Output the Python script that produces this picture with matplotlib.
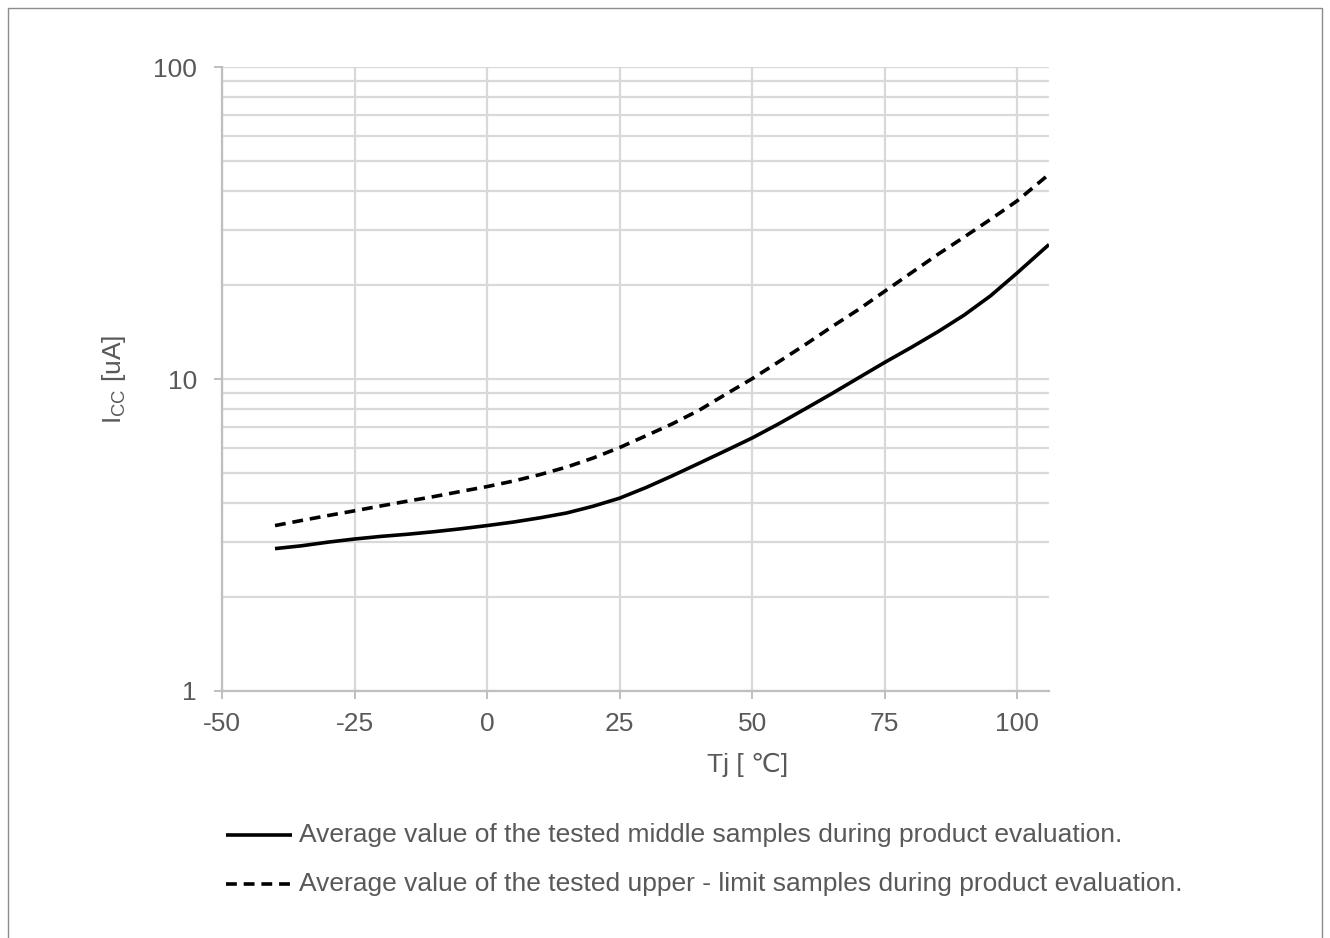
import matplotlib
matplotlib.use("Agg")
import matplotlib.pyplot as plt
from matplotlib.lines import Line2D
from matplotlib.patches import Rectangle
from matplotlib.ticker import FixedLocator, NullFormatter, LogLocator

plt.rcParams['font.family'] = ['Liberation Sans', 'DejaVu Sans']
plt.rcParams['axes.unicode_minus'] = False

# Junction temperature [degC]
tj = [-40, -35, -30, -25, -20, -15, -10, -5, 0, 5, 10, 15, 20, 25, 30, 35,
      40, 45, 50, 55, 60, 65, 70, 75, 80, 85, 90, 95, 100, 105, 106]

# Supply current, average of middle samples [uA]
icc_middle = [2.86, 2.92, 3.00, 3.07, 3.13, 3.18, 3.24, 3.31, 3.39, 3.48,
              3.59, 3.72, 3.91, 4.15, 4.49, 4.90, 5.37, 5.89, 6.47, 7.18,
              8.02, 8.97, 10.07, 11.30, 12.62, 14.16, 16.03, 18.49, 21.88,
              26.06, 26.98]

# Supply current, average of upper-limit samples [uA]
icc_upper = [3.39, 3.52, 3.65, 3.78, 3.92, 4.06, 4.20, 4.36, 4.52, 4.71,
             4.94, 5.22, 5.58, 6.03, 6.58, 7.19, 7.94, 8.93, 10.02, 11.35,
             12.88, 14.69, 16.67, 19.10, 21.88, 25.06, 28.51, 32.51, 37.24,
             43.85, 45.29]

x_ticks = [-50, -25, 0, 25, 50, 75, 100]
y_ticks = [1, 10, 100]
y_tick_labels = ["1", "10", "100"]

label_middle = "Average value of the tested middle samples during product evaluation."
label_upper = "Average value of the tested upper - limit samples during product evaluation."

W, H = 1330, 938
fig = plt.figure(figsize=(W / 100, H / 100), dpi=100)

text_color = "#595959"
grid_color = "#d9d9d9"
axis_color = "#bfbfbf"
fs = 19

# chart border
fig.add_artist(Rectangle((8 / W, -0.05), (1322 - 8) / W, 1 - 8 / H + 0.05,
                         transform=fig.transFigure, fill=False,
                         edgecolor="#8c8c8c", linewidth=1.0))

ax = fig.add_axes([222 / W, 1 - 691 / H, (1049 - 222) / W, (691 - 67) / H])
ax.set_yscale("log")
ax.set_xlim(-50, 106)
ax.set_ylim(1, 100)

ax.xaxis.set_major_locator(FixedLocator(x_ticks))
ax.yaxis.set_major_locator(FixedLocator(y_ticks))
ax.set_yticklabels(y_tick_labels)
ax.yaxis.set_minor_locator(LogLocator(base=10, subs=range(2, 10)))
ax.yaxis.set_minor_formatter(NullFormatter())

ax.grid(True, which="major", axis="both", color=grid_color, linewidth=1.6)
ax.grid(True, which="minor", axis="y", color=grid_color, linewidth=1.6)
ax.set_axisbelow(True)

for side in ("top", "right"):
    ax.spines[side].set_visible(False)
for side in ("left", "bottom"):
    ax.spines[side].set_color(axis_color)
    ax.spines[side].set_linewidth(1.6)

ax.tick_params(axis="both", which="major", direction="out", length=6,
               width=1.4, color=axis_color, labelcolor=text_color,
               labelsize=fs)
ax.tick_params(axis="y", which="major", pad=12)
ax.tick_params(axis="x", which="major", pad=9)
ax.tick_params(axis="y", which="minor", length=0)

ax.plot(tj, icc_middle, color="black", linewidth=2.6, solid_capstyle="butt",
        solid_joinstyle="round")
ax.plot(tj, icc_upper, color="black", linewidth=2.6,
        linestyle=(0, (3.0, 1.9)), dash_capstyle="butt")

ax.set_xlabel("Tj [ \u2103]", fontsize=fs, color=text_color)
ax.xaxis.set_label_coords((748 - 222) / (1049 - 222), -(753 - 691) / (691 - 67))
ax.set_ylabel("I$_{\\mathregular{CC}}$ [uA]", fontsize=fs, color=text_color)
ax.yaxis.set_label_coords((128 - 222) / (1049 - 222), 0.5)

# legend rows below the plot
rows = [(835, "-", label_middle), (884, (0, (3.0, 1.9)), label_upper)]
for ypix, ls, label in rows:
    yf = 1 - ypix / H
    fig.add_artist(Line2D([226 / W, 292 / W], [yf, yf], transform=fig.transFigure,
                          color="black", linewidth=2.6, linestyle=ls,
                          solid_capstyle="butt", dash_capstyle="butt"))
    fig.text(299 / W, yf, label, fontsize=fs, color=text_color,
             va="center", ha="left")

fig.savefig("out.png", dpi=100)
